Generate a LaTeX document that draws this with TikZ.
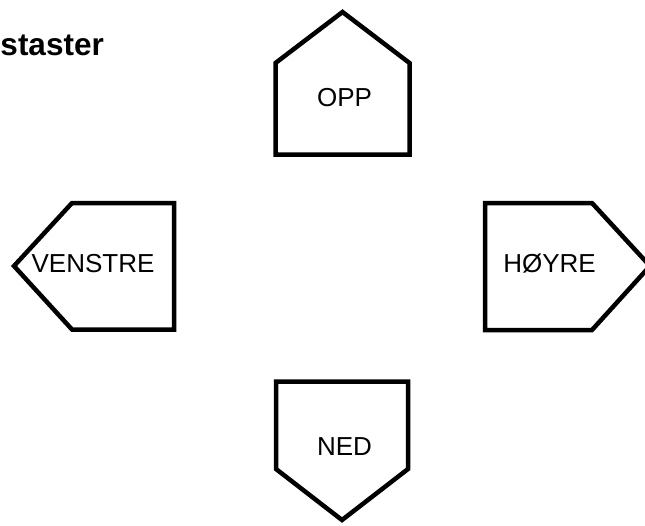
\documentclass[tikz,border=0pt]{standalone}
\usepackage{fontspec}
\setmainfont{Liberation Sans}
\begin{document}
\begin{tikzpicture}[x=1pt,y=-1pt,
  keyshape/.style={draw=black,line width=4.5pt,line join=miter,fill=white},
  keylabel/.style={font=\fontsize{26}{30}\selectfont,inner sep=0pt},
  titlestyle/.style={font=\fontsize{31.5}{36}\selectfont\bfseries,inner sep=0pt}]
\useasboundingbox (0,0) rectangle (645,525);
\clip (0,0) rectangle (645,525);
% OPP
\draw[keyshape] (275.5,154.5) -- (275.5,63) -- (342.5,12) -- (409.5,63) -- (409.5,154.5) -- cycle;
% NED
\draw[keyshape] (276,381.5) -- (408,381.5) -- (408,469) -- (342,520) -- (276,469) -- cycle;
% VENSTRE
\draw[keyshape] (174,203) -- (72,203) -- (14,266) -- (72,329.5) -- (174,329.5) -- cycle;
% HOYRE
\draw[keyshape] (485,203) -- (592,203) -- (650,266) -- (592,330) -- (485,330) -- cycle;
\node[keylabel] (opp) at (344.5,97.5) {OPP};
\node[keylabel] (ned) at (344.5,447) {NED};
\node[keylabel] (venstre) at (93,264) {VENSTRE};
\node[keylabel] (hoyre) at (549.5,264) {HØYRE};
\node[titlestyle,anchor=base east] (title) at (104,55) {staster};
\end{tikzpicture}
\end{document}
